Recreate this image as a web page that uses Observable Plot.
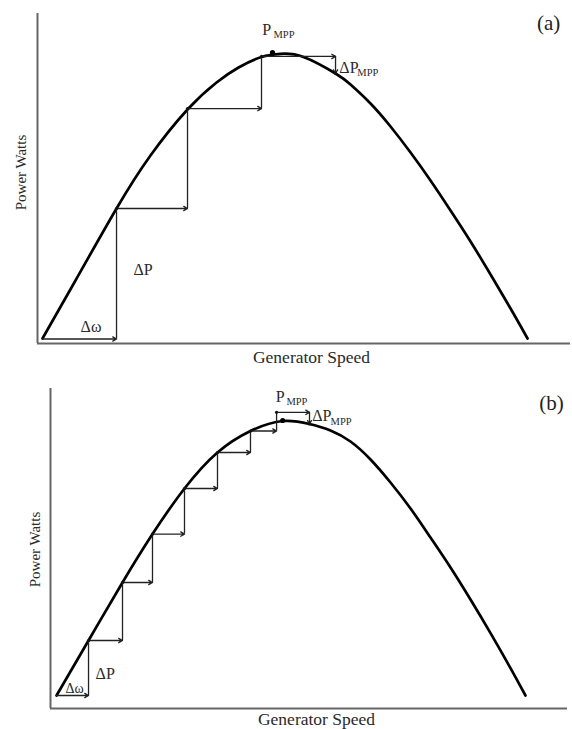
<!DOCTYPE html>
<html><head><meta charset="utf-8">
<script src="https://cdn.jsdelivr.net/npm/d3@7"></script>
<script src="https://cdn.jsdelivr.net/npm/@observablehq/plot@0.6"></script>
<style>
html,body{margin:0;padding:0;background:#fff}
#chart svg{display:block}
</style>
</head><body><div id="chart"></div>
<script>
// ---- Panel (a): power curve (speed, power in relative units) ----
const curveSpeedA = [1.03, 7.84, 16.31, 23.32, 30.96, 36.95, 41.49, 46.23, 50.15, 54.90, 61.51, 64.60, 68.73, 72.86, 76.99, 81.11, 85.24, 89.37, 93.50, 97.63, 101.14];
const curvePowerA = [1.67, 21.0, 45.0, 62.67, 78.0, 87.0, 92.0, 95.5, 96.57, 95.5, 90.0, 86.33, 80.0, 72.33, 63.67, 54.33, 44.33, 34.0, 23.0, 11.67, 1.67];
// P&O steps (a)
const stepSpeedA = [1.03, 16.31, 30.96, 46.23, 61.51];
const stepPowerA = [1.5, 45.0, 78.3, 95.7, 90.0];
const mppSpeedA = 48.5, mppPowerA = 97.0;

// ---- Panel (b) ----
const curveSpeedB = [1.28, 8.09, 15.32, 21.70, 28.51, 35.53, 42.55, 49.36, 55.11, 59.57, 63.83, 68.09, 72.34, 76.60, 80.85, 85.11, 89.36, 93.62, 97.87, 101.06];
const curvePowerB = [4.47, 23.38, 43.31, 59.95, 75.63, 88.0, 95.39, 98.83, 97.80, 95.57, 91.78, 85.60, 77.69, 68.75, 58.78, 48.47, 37.47, 25.92, 13.89, 4.47];
const stepSpeedB = [1.28, 8.09, 15.32, 21.70, 28.51, 35.53, 42.55, 48.1, 55.11];
const stepPowerB = [4.47, 23.38, 43.31, 59.95, 75.63, 88.0, 95.39, 101.8, 97.8];
const mppSpeedB = 49.4, mppPowerB = 99.0;

const axisTitleX = "Generator Speed";
const axisTitleY = "Power Watts";

const SERIF = "'Liberation Serif', 'Times New Roman', 'DejaVu Serif', serif";
const INK = "#2a2a2a";

function panel(o) {
  const n = o.stepS.length;
  const hSeg = d3.range(n - 1).map(i => ({x1: o.stepS[i], x2: o.stepS[i + 1], y: o.stepP[i]}));
  const vUp = [], vDown = [];
  for (let i = 0; i < n - 1; i++) {
    const seg = {x: o.stepS[i + 1], y1: o.stepP[i], y2: o.stepP[i + 1]};
    (seg.y2 >= seg.y1 ? vUp : vDown).push(seg);
  }
  const curve = o.curveS.map((s, i) => ({s, p: o.curveP[i]}));
  const corners = d3.range(1, n).map(i => ({s: o.stepS[i], p: o.stepP[i]}));
  const ann = o.ann;
  return Plot.plot({
    width: 572,
    height: o.height,
    marginLeft: o.ml, marginRight: o.mr, marginTop: o.mt, marginBottom: o.mb,
    x: {domain: [0, 110], axis: null},
    y: {domain: [0, 110], axis: null},
    style: {fontFamily: SERIF, background: "#fff", overflow: "visible"},
    marks: [
      Plot.ruleX([0], {stroke: "#666", strokeWidth: 2}),
      Plot.ruleY([0], {stroke: "#666", strokeWidth: 2}),
      Plot.line(curve, {x: "s", y: "p", curve: "natural", stroke: "#000", strokeWidth: 2.7}),
      Plot.arrow(hSeg, {x1: "x1", x2: "x2", y1: "y", y2: "y", stroke: "#222", strokeWidth: 1.3, headLength: 5}),
      Plot.ruleX(vUp, {x: "x", y1: "y1", y2: "y2", stroke: "#222", strokeWidth: 1.3}),
      Plot.arrow(vDown, {x1: "x", x2: "x", y1: "y1", y2: "y2", stroke: "#222", strokeWidth: 1.3, headLength: 5}),
      Plot.dot(corners, {x: "s", y: "p", r: 1.6, fill: "#111"}),
      Plot.dot([{s: o.mppS, p: o.mppP}], {x: "s", y: "p", r: 2.6, fill: "#000"}),
      Plot.text(ann, {x: "x", y: "y", text: "t", fontSize: "f", textAnchor: "start", lineAnchor: "bottom", fill: INK}),
      Plot.text([o.tag], {x: "x", y: "y", text: "t", fontSize: 21, textAnchor: "middle", lineAnchor: "middle", fill: "#222"}),
      Plot.text([axisTitleX], {frameAnchor: "bottom", dx: o.xtDx, dy: o.xtDy, fontSize: 17.5, textAnchor: "middle", lineAnchor: "middle", fill: INK}),
      Plot.text([axisTitleY], {frameAnchor: "left", dx: o.ytDx, dy: o.ytDy, rotate: -90, fontSize: 15, textAnchor: "middle", lineAnchor: "middle", fill: INK})
    ]
  });
}

const chart = document.getElementById("chart");

chart.appendChild(panel({
  height: 365, ml: 37, mr: 2, mt: 13, mb: 22,
  curveS: curveSpeedA, curveP: curvePowerA,
  stepS: stepSpeedA, stepP: stepPowerA,
  mppS: mppSpeedA, mppP: mppPowerA,
  tag: {x: 105.5, y: 106.7, t: "(a)"},
  xtDx: 7.5, xtDy: 14, ytDx: -16, ytDy: -6,
  ann: [
    {x: 46.4, y: 102.7, t: "P", f: 16},
    {x: 48.7, y: 101.7, t: "MPP", f: 10.5},
    {x: 62.3, y: 90.3, t: "ΔP", f: 16},
    {x: 66.0, y: 89.3, t: "MPP", f: 10.5},
    {x: 19.8, y: 23.0, t: "ΔP", f: 16},
    {x: 8.9, y: 3.7, t: "Δω", f: 16}
  ]
}));

chart.appendChild(panel({
  height: 364, ml: 50, mr: 5, mt: 23, mb: 21,
  curveS: curveSpeedB, curveP: curvePowerB,
  stepS: stepSpeedB, stepP: stepPowerB,
  mppS: mppSpeedB, mppP: mppPowerB,
  tag: {x: 106.6, y: 104.8, t: "(b)"},
  xtDx: 7.5, xtDy: 11, ytDx: -15, ytDy: 1,
  ann: [
    {x: 47.9, y: 105.5, t: "P", f: 16},
    {x: 50.2, y: 104.5, t: "MPP", f: 10.5},
    {x: 55.7, y: 98.7, t: "ΔP", f: 16},
    {x: 59.6, y: 97.6, t: "MPP", f: 10.5},
    {x: 9.6, y: 10.0, t: "ΔP", f: 16},
    {x: 3.2, y: 5.4, t: "Δω", f: 14}
  ]
}));
</script>
</body></html>
